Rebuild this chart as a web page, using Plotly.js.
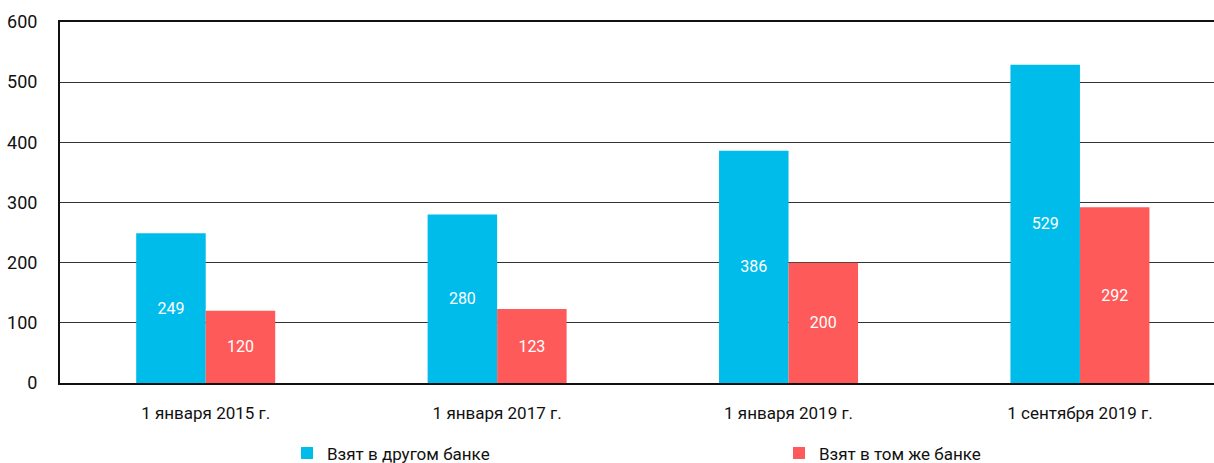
<!DOCTYPE html>
<html><head><meta charset="utf-8">
<script src="https://cdn.plot.ly/plotly-3.0.1.min.js"></script>
<style>html,body{margin:0;padding:0;background:#fff}#chart{width:1214px;height:463px}</style>
</head><body><div id="chart"></div>
<script>
const categories = ["1 января 2015 г.", "1 января 2017 г.", "1 января 2019 г.", "1 сентября 2019 г."];
const otherBank = [249, 280, 386, 529];
const sameBank = [120, 123, 200, 292];
const seriesNames = ["Взят в другом банке", "Взят в том же банке"];
const yTicks = [0, 100, 200, 300, 400, 500, 600];

const font = "Roboto, 'Liberation Sans', Arial, sans-serif";
const common = {type:'bar', textposition:'inside', insidetextanchor:'middle',
  textfont:{color:'#fff', size:16, family:font}, texttemplate:'%{y}', hoverinfo:'none'};
const data = [
  Object.assign({}, common, {x:categories, y:otherBank, name:seriesNames[0], marker:{color:'#00BCEB'}, legend:'legend'}),
  Object.assign({}, common, {x:categories, y:sameBank, name:seriesNames[1], marker:{color:'#FF5A5A'}, legend:'legend2'})
];
const legBase = {orientation:'h', xref:'paper', yref:'paper', xanchor:'left', yanchor:'middle', y:-0.195,
  font:{size:17, family:font, color:'#111'}, itemclick:false, bgcolor:'rgba(0,0,0,0)', itemwidth:30};
const layout = {
  width:1214, height:463,
  margin:{l:60, r:0, t:22, b:80, autoexpand:false},
  paper_bgcolor:'#fff', plot_bgcolor:'#fff',
  font:{family:font, size:17, color:'#111'},
  barmode:'group', bargap:0.523, bargroupgap:0,
  showlegend:true,
  legend:Object.assign({}, legBase, {x:(287-60)/1154}),
  legend2:Object.assign({}, legBase, {x:(779-60)/1154}),
  xaxis:{type:'category', range:[-0.5, 3.46], showline:true, linecolor:'#111', linewidth:2, mirror:true,
    ticks:'', ticklabelstandoff:14, tickfont:{size:17}, showgrid:false, zeroline:false, automargin:false},
  yaxis:{range:[0,600], tickvals:yTicks, showline:true, linecolor:'#111', linewidth:2, automargin:false,
    showgrid:true, gridcolor:'#333', gridwidth:1, zeroline:false, ticks:'', ticklabelstandoff:17, tickfont:{size:18}}
};
Plotly.newPlot('chart', data, layout, {staticPlot:true});
</script></body></html>
